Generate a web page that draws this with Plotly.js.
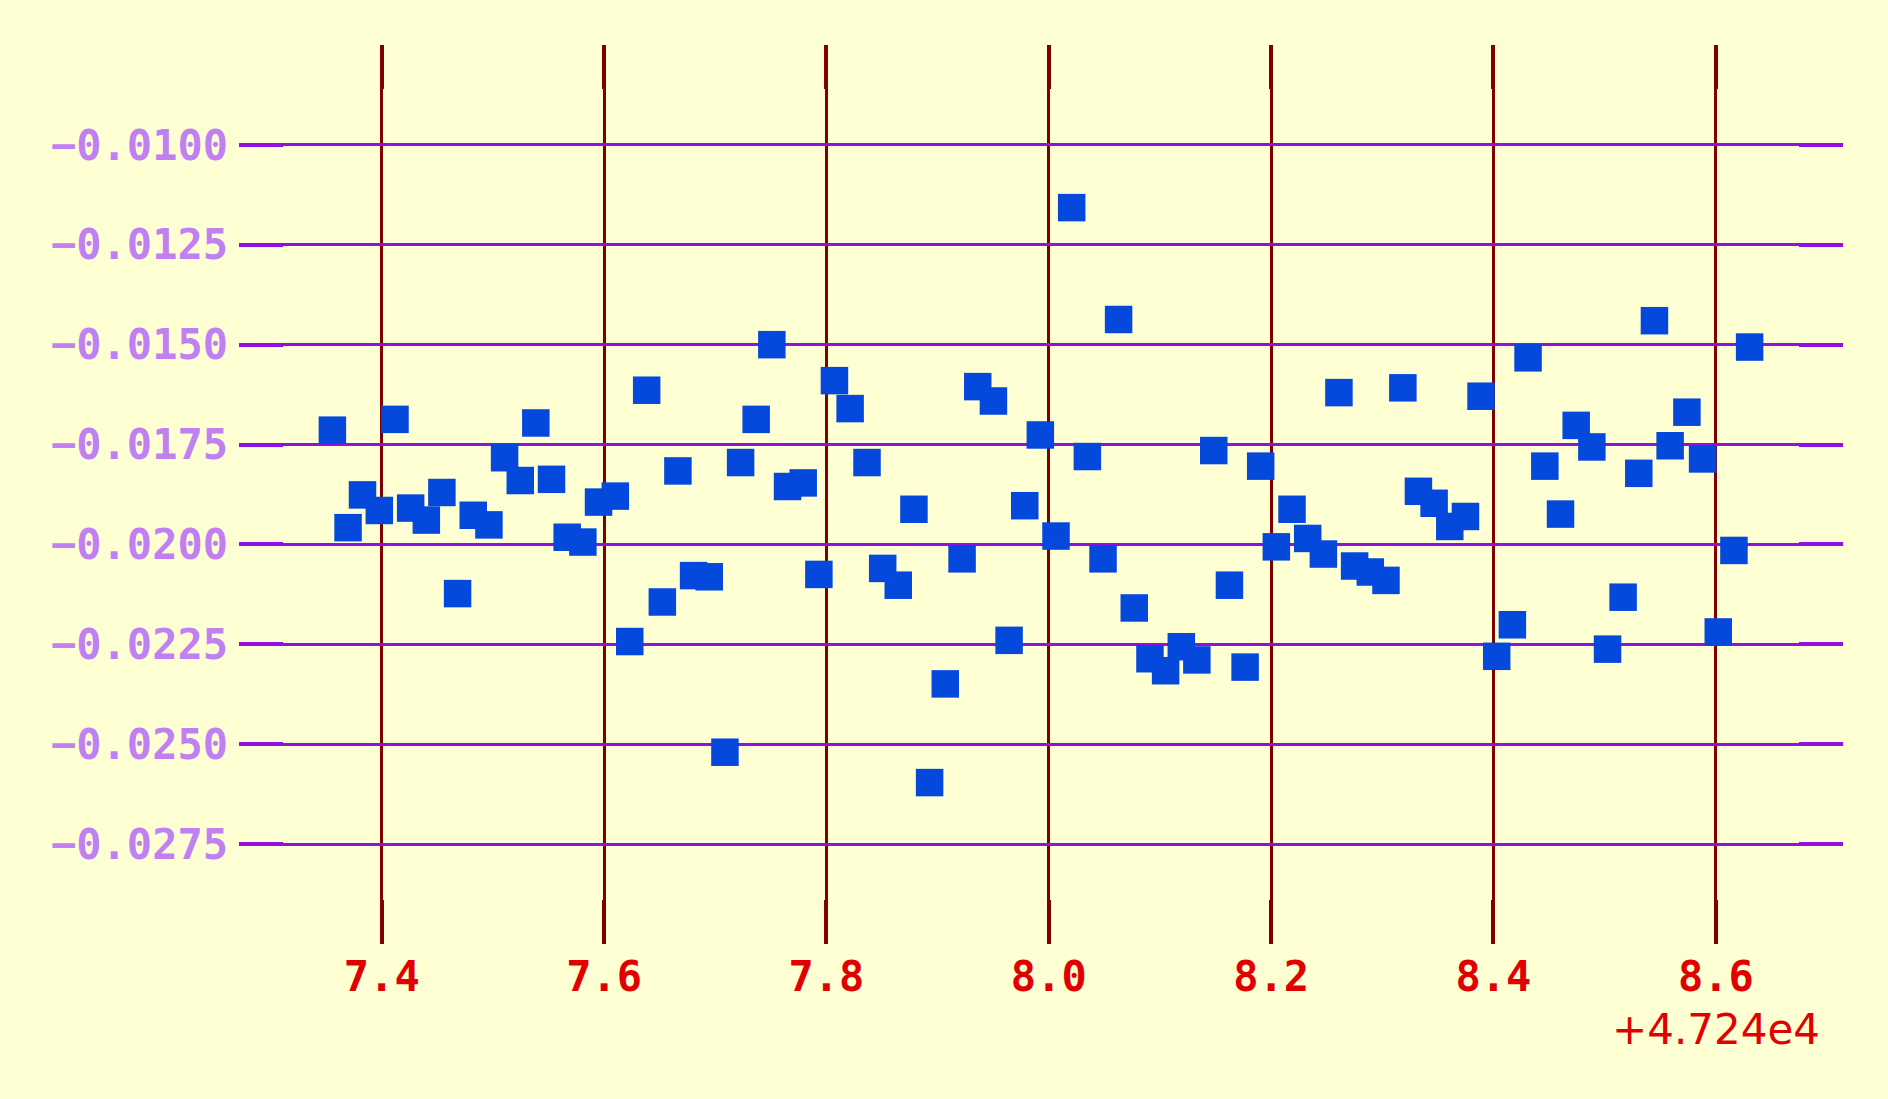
<!DOCTYPE html>
<html>
<head>
<meta charset="utf-8">
<script src="https://cdn.plot.ly/plotly-3.0.1.min.js"></script>
<style>html,body{margin:0;padding:0;background:#FFFFD4;}</style>
</head>
<body>
<div id="chart" style="width:1888px;height:1099px;"></div>
<script>
const xValues = [
47247.3556,47247.3697,47247.3827,47247.3978,47247.4119,47247.4260,47247.4401,47247.4541,47247.4682,47247.4823,
47247.4964,47247.5105,47247.5246,47247.5386,47247.5527,47247.5668,47247.5809,47247.5950,47247.6101,47247.6231,
47247.6383,47247.6524,47247.6664,47247.6805,47247.6946,47247.7087,47247.7228,47247.7368,47247.7509,47247.7650,
47247.7791,47247.7932,47247.8072,47247.8213,47247.8365,47247.8506,47247.8646,47247.8787,47247.8928,47247.9069,
47247.9220,47247.9361,47247.9502,47247.9643,47247.9784,47247.9924,47248.0065,47248.0206,47248.0347,47248.0488,
47248.0628,47248.0769,47248.0910,47248.1051,47248.1192,47248.1332,47248.1484,47248.1625,47248.1766,47248.1906,
47248.2047,47248.2188,47248.2329,47248.2470,47248.2610,47248.2751,47248.2892,47248.3033,47248.3185,47248.3325,
47248.3466,47248.3607,47248.3748,47248.3888,47248.4029,47248.4170,47248.4311,47248.4462,47248.4603,47248.4744,
47248.4885,47248.5026,47248.5166,47248.5307,47248.5448,47248.5589,47248.5740,47248.5881,47248.6022,47248.6163,
47248.6304];
const yValues = [
-0.01714,-0.01958,-0.01876,-0.01915,-0.01687,-0.01909,-0.01939,-0.01870,-0.02123,-0.01927,
-0.01951,-0.01783,-0.01840,-0.01696,-0.01837,-0.01982,-0.01994,-0.01894,-0.01879,-0.02243,
-0.01614,-0.02144,-0.01816,-0.02078,-0.02081,-0.02520,-0.01795,-0.01687,-0.01500,-0.01855,
-0.01846,-0.02075,-0.01590,-0.01660,-0.01795,-0.02060,-0.02102,-0.01912,-0.02596,-0.02349,
-0.02036,-0.01605,-0.01641,-0.02240,-0.01903,-0.01726,-0.01979,-0.01157,-0.01780,-0.02036,
-0.01437,-0.02159,-0.02286,-0.02316,-0.02256,-0.02289,-0.01765,-0.02102,-0.02307,-0.01804,
-0.02006,-0.01912,-0.01985,-0.02024,-0.01620,-0.02054,-0.02069,-0.02090,-0.01608,-0.01867,
-0.01897,-0.01955,-0.01930,-0.01629,-0.02280,-0.02201,-0.01533,-0.01804,-0.01924,-0.01702,
-0.01756,-0.02262,-0.02132,-0.01822,-0.01440,-0.01753,-0.01669,-0.01786,-0.02219,-0.02015,
-0.01506];
const xTickVals = [47247.4,47247.6,47247.8,47248.0,47248.2,47248.4,47248.6];
const xTickText = ['7.4','7.6','7.8','8.0','8.2','8.4','8.6'];
const xOffsetText = '+4.724e4';
const yTickVals = [-0.0100,-0.0125,-0.0150,-0.0175,-0.0200,-0.0225,-0.0250,-0.0275];
const yTickText = ['\u22120.0100','\u22120.0125','\u22120.0150','\u22120.0175','\u22120.0200','\u22120.0225','\u22120.0250','\u22120.0275'];

const bg = '#FFFFD4';
const trace = {
  type: 'scatter', mode: 'markers', x: xValues, y: yValues,
  marker: {symbol: 'square', size: 27.5, color: '#0448DC', line: {width: 0}},
  hoverinfo: 'skip'
};
const layout = {
  width: 1888, height: 1099,
  margin: {l: 239, r: 45, t: 45, b: 155, pad: 0},
  paper_bgcolor: bg, plot_bgcolor: bg,
  showlegend: false,
  xaxis: {
    range: [47247.2716, 47248.7144],
    tickmode: 'array', tickvals: xTickVals, ticktext: xTickText,
    ticks: 'inside', ticklen: 44, tickwidth: 4, tickcolor: '#800000',
    mirror: 'ticks', showline: false, zeroline: false,
    showgrid: true, gridcolor: '#800000', gridwidth: 3,
    tickfont: {family: 'DejaVu Sans Mono', size: 42, color: '#E00000', weight: 'bold'},
    ticklabelstandoff: 4
  },
  yaxis: {
    range: [-0.0300, -0.0075],
    tickmode: 'array', tickvals: yTickVals, ticktext: yTickText,
    ticks: 'inside', ticklen: 44, tickwidth: 4, tickcolor: '#9410E0',
    mirror: 'ticks', showline: false, zeroline: false,
    showgrid: true, gridcolor: '#9410E0', gridwidth: 3,
    tickfont: {family: 'DejaVu Sans Mono', size: 42, color: '#C080F2', weight: 'bold'},
    ticklabelstandoff: 10
  },
  annotations: [{
    text: xOffsetText, xref: 'paper', yref: 'paper',
    x: (1822 - 239) / 1604, y: (944 - 1029) / 899,
    xanchor: 'right', yanchor: 'middle', showarrow: false,
    font: {family: 'DejaVu Sans', size: 42, color: '#E00000'}
  }]
};
Plotly.newPlot('chart', [trace], layout, {displayModeBar: false, staticPlot: true});
</script>
</body>
</html>
